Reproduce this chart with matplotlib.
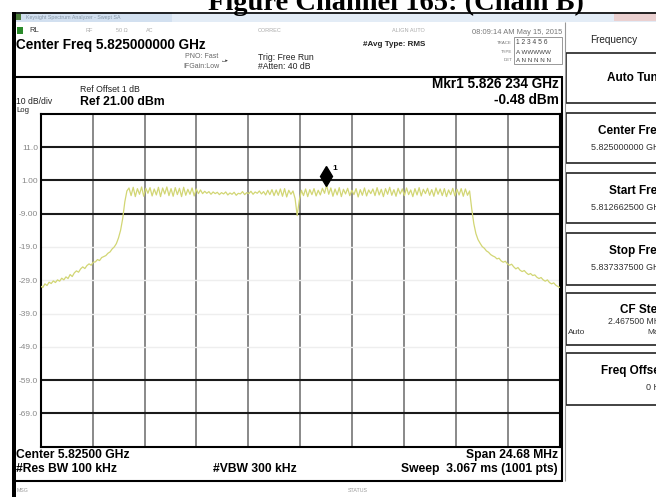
import matplotlib
matplotlib.use("Agg")
import matplotlib.pyplot as plt
import numpy as np
from matplotlib.patches import Rectangle
from matplotlib.transforms import offset_copy

# ---------------- data ----------------
center_ghz = 5.825
span_mhz = 24.68
ref_level = 21.0
db_per_div = 10.0
n_div = 10

ytick_values = [11, 1, -9, -19, -29, -39, -49, -59, -69]
ytick_labels = ["11.0", "1.00", "-9.00", "-19.0", "-29.0", "-39.0", "-49.0", "-59.0", "-69.0"]
dark_hlines = [11, 1, -9, -59, -69]
faint_hlines = [-19, -29, -39, -49]

noise_left = [-30.8, -31.2, -30.1, -30.6, -29.6, -30.0, -29.2, -29.7, -28.9, -29.3,
              -28.4, -28.9, -28.0, -28.5, -27.3, -27.9, -26.8, -26.2, -26.6, -25.6,
              -25.0, -25.5, -24.6, -24.1, -24.5, -23.6, -23.5, -22.8, -23.1, -22.2,
              -21.9, -21.6, -20.9, -20.5, -19.6, -19.0, -18.0, -16.3, -14.0, -10.5,
              -5.5]
band_left = [-2.2, -1.3, -3.6, -1.1, -3.9, -1.5, -3.2, -1.0, -3.8, -1.4,
             -2.9, -1.2, -3.7, -1.6, -3.4, -1.1, -3.9, -1.3, -3.1, -1.0,
             -3.6, -1.5, -3.8, -1.2, -3.3, -1.4, -3.9, -1.1, -3.5, -1.7,
             -3.2, -1.3, -3.7, -1.6, -3.0, -1.9]
band_mid = [-3.0, -2.3, -2.9, -2.4, -3.2, -2.5, -3.0, -2.6, -3.3, -2.7,
            -3.1, -2.5, -3.4, -2.8, -3.2, -2.6, -3.5, -2.9, -3.1, -2.4,
            -3.3, -2.7, -3.0, -2.3, -3.2, -2.5, -2.9, -2.2, -3.1, -2.4,
            -3.4, -2.0, -3.3, -1.8, -3.6, -1.9, -3.5]
band_prenotch = [-1.6, -3.8, -1.5, -4.0, -2.0, -3.2, -2.2, -4.5]
notch = [-9.6, -5.0, -2.0]
band_right = [-3.6, -1.6, -3.9, -1.8, -3.3, -1.5, -3.7, -2.0, -3.4, -1.4,
              -2.9, -0.48, -3.2, -1.3, -3.8, -1.6, -3.4, -1.2, -3.9, -1.7,
              -3.1, -1.4, -3.6, -2.0, -3.3, -1.5, -4.0, -1.8, -3.5, -1.3,
              -3.7, -1.9, -3.0, -1.6, -3.6, -1.2, -3.4, -1.7, -3.9, -1.5,
              -3.2, -1.1, -3.5, -1.8, -3.8, -1.4, -3.1, -1.6, -3.6, -1.3,
              -3.3, -1.9, -3.9, -1.5, -3.4, -1.2, -3.7, -1.7, -3.0, -1.4,
              -3.5, -1.8, -3.8, -1.3, -3.2, -1.6, -3.6, -1.5, -3.9, -1.9,
              -3.3, -1.4, -3.7, -1.7, -3.4, -1.5, -3.8, -1.6, -3.5, -2.2]
noise_right = [-7.5, -12.0, -15.0, -16.8, -17.9, -18.9, -19.4, -20.2, -20.6, -21.3,
               -21.7, -22.0, -22.6, -22.4, -23.2, -23.6, -23.3, -24.1, -24.5, -24.2,
               -25.0, -25.6, -25.2, -26.0, -26.4, -26.1, -26.8, -27.3, -27.0, -27.6,
               -27.4, -28.1, -28.5, -28.2, -28.9, -29.3, -28.9, -29.7, -30.1, -29.8,
               -30.5, -30.9, -31.2]

marker_freq_ghz = 5.826234
marker_level = -0.48

levels = noise_left + band_left + band_mid + band_prenotch + notch + band_right + noise_right
start_ghz = center_ghz - span_mhz / 2 / 1000
stop_ghz = center_ghz + span_mhz / 2 / 1000
freqs = np.linspace(start_ghz, stop_ghz, len(levels))

# ---------------- figure ----------------
W, H = 656, 497
SANS = ["Liberation Sans", "DejaVu Sans"]
fig = plt.figure(figsize=(W / 100, H / 100), dpi=100)
fig.patch.set_facecolor("white")

ov = fig.add_axes([0, 0, 1, 1])
ov.set_xlim(0, W)
ov.set_ylim(H, 0)
ov.axis("off")
ov.set_zorder(0)


def t(x, y, s, size=6, weight="normal", color="black", ha="left", va="center", family=None):
    ov.text(x, y, s, fontsize=size, fontweight=weight, color=color, ha=ha, va=va,
            family=family or SANS)


def line(x0, y0, x1, y1, lw=1.2, color="black"):
    ov.plot([x0, x1], [y0, y1], color=color, lw=lw, solid_capstyle="butt")


def box(x, y, w, h, lw=1.0, ec="black", fc="none"):
    ov.add_patch(Rectangle((x, y), w, h, lw=lw, ec=ec, fc=fc))


# Title (cut at top)
ov.text(396, 10, "Figure Channel 165: (Chain B)", fontsize=20.5, fontweight="bold",
        family=["Liberation Serif", "DejaVu Serif"], ha="center", va="baseline", color="black")

# window title bar
ov.add_patch(Rectangle((12, 12), W - 12, 10, fc="#e3ecf6", ec="none"))
ov.add_patch(Rectangle((12, 12), 160, 10, fc="#d2e0f0", ec="none"))
line(12, 12.5, W, 12.5, lw=1.2)
ov.add_patch(Rectangle((16, 14), 5, 6, fc="#4a7a3a", ec="none"))
t(26, 17, "Keysight Spectrum Analyzer - Swept SA", size=3.8, color="#8899aa")
ov.add_patch(Rectangle((614, 13), 42, 8, fc="#ead0d0", ec="none"))

# left black bar
ov.add_patch(Rectangle((12, 12), 4, H - 12, fc="black", ec="none"))

# row 2
ov.add_patch(Rectangle((17, 27), 6, 7, fc="#2a8a2a", ec="none"))
t(29, 31, "RL", size=5.5, color="#333333")
t(86, 31, "RF", size=4, color="#aaaaaa")
t(116, 31, "50 \u03a9", size=4, color="#aaaaaa")
t(146, 31, "AC", size=4, color="#aaaaaa")
t(258, 31, "CORREC", size=4, color="#aaaaaa")
t(392, 31, "ALIGN AUTO", size=4, color="#aaaaaa")
t(562, 32, "08:09:14 AM May 15, 2015", size=5.4, color="#777777", ha="right")

# header
t(16, 45, "Center Freq 5.825000000 GHz", size=9.8, weight="bold")
t(185, 57, "PNO: Fast", size=5.0, color="#666666")
t(183, 66, "IFGain:Low", size=5.0, color="#666666")
t(221, 61, "\u2190\u25b8", size=3.8, color="#333333")
t(258, 57, "Trig: Free Run", size=6.2, color="#222222")
t(258, 66.5, "#Atten: 40 dB", size=6.2, color="#222222")
t(363, 45, "#Avg Type: RMS", size=5.8, weight="bold", color="#222222")
box(514, 37, 48, 27, lw=0.6, ec="#888888")
t(512, 43, "TRACE", size=3.2, color="#777777", ha="right")
t(512, 52, "TYPE", size=3.2, color="#777777", ha="right")
t(512, 60, "DET", size=3.2, color="#777777", ha="right")
t(516, 43, "1 2 3 4 5 6", size=4.8, color="#444444")
t(516, 52, "A WWWWW", size=4.5, color="#444444")
t(516, 60, "A N N N N N", size=4.5, color="#444444")

line(15, 76.5, 562, 76.5, lw=1.5)

t(80, 90, "Ref Offset 1 dB", size=6.3, color="#222222")
t(16, 102, "10 dB/div", size=6.2, color="#222222")
t(16, 110, "Log", size=5.6, color="#222222")
t(80, 102, "Ref 21.00 dBm", size=8.8, weight="bold")
t(559, 84, "Mkr1 5.826 234 GHz", size=9.8, weight="bold", ha="right")
t(559, 100, "-0.48 dBm", size=9.8, weight="bold", ha="right")

# bottom
t(16, 455, "Center 5.82500 GHz", size=8.7, weight="bold")
t(16, 469, "#Res BW 100 kHz", size=8.7, weight="bold")
t(213, 469, "#VBW 300 kHz", size=8.7, weight="bold")
t(558, 455, "Span 24.68 MHz", size=8.7, weight="bold", ha="right")
t(558, 469, "Sweep  3.067 ms (1001 pts)", size=8.7, weight="bold", ha="right")
line(15, 481, 562, 481, lw=1.5)
line(561.5, 76, 561.5, 482, lw=1.5)
t(17, 490, "MSG", size=3.8, color="#999999")
t(348, 490, "STATUS", size=3.8, color="#999999")

# right panel
line(565, 22, 565, 481, lw=0.8, color="#999999")
t(614, 40, "Frequency", size=7.2, color="#222222", ha="center")
buttons = [(53, 103, "Auto Tune", None), (113, 163, "Center Freq", "5.825000000 GHz"),
           (173, 223, "Start Freq", "5.812662500 GHz"), (233, 285, "Stop Freq", "5.837337500 GHz"),
           (293, 345, "CF Step", "2.467500 MHz"), (353, 405, "Freq Offset", "0 Hz")]
for y0, y1, lab, val in buttons:
    box(566, y0, 100, y1 - y0, lw=1.2, ec="#222222")
    if val is None:
        t(664, (y0 + y1) / 2, lab, size=8.5, weight="bold", ha="right")
    elif lab == "CF Step":
        t(664, y0 + 17, lab, size=8.5, weight="bold", ha="right")
        t(664, y0 + 29, val, size=6.2, color="#333333", ha="right")
        t(568, y0 + 39, "Auto", size=6, color="#333333")
        t(664, y0 + 39, "Man", size=6, color="#333333", ha="right")
    else:
        t(664, y0 + 18, lab, size=8.5, weight="bold", ha="right")
        t(664, y0 + 34, val, size=6.5, color="#333333", ha="right")

# ---------------- plot axes ----------------
L, R, T, B = 40.7, 560.0, 113.7, 446.7
ax = fig.add_axes([L / W, 1 - B / H, (R - L) / W, (B - T) / H])
ax.set_zorder(2)
ax.set_facecolor("white")
ax.set_xlim(start_ghz, stop_ghz)
ax.set_ylim(ref_level - n_div * db_per_div, ref_level)

div_ghz = span_mhz / n_div / 1000
for k in range(1, n_div):
    ax.axvline(start_ghz + k * div_ghz, color="#6a6a6a", lw=1.1, zorder=1)
for yv in dark_hlines:
    ax.axhline(yv, color="#1a1a1a", lw=1.5, zorder=1)
for yv in faint_hlines:
    ax.axhline(yv, color="#eeeeee", lw=1.0, zorder=1)

ax.plot(freqs, levels, color="#d2d674", lw=0.9, zorder=3)

mtrans = offset_copy(ax.transData, fig=fig, x=0, y=9, units="dots")
ax.plot([marker_freq_ghz], [marker_level], marker="d", markersize=10, color="black",
        transform=mtrans, zorder=4)
ax.annotate("1", (marker_freq_ghz, marker_level), xytext=(8, 17), textcoords="offset pixels",
            fontsize=6, fontweight="bold", family=SANS, ha="center", va="center", zorder=4)

ax.set_xticks([])
ax.set_yticks(ytick_values)
ax.set_yticklabels(ytick_labels, family=SANS)
ax.tick_params(axis="y", length=0, pad=2, labelsize=6, labelcolor="#888888")
for s in ["top", "right", "bottom", "left"]:
    ax.spines[s].set_color("black")
    ax.spines[s].set_linewidth(1.5)

fig.savefig("out.png", dpi=100, facecolor="white")
